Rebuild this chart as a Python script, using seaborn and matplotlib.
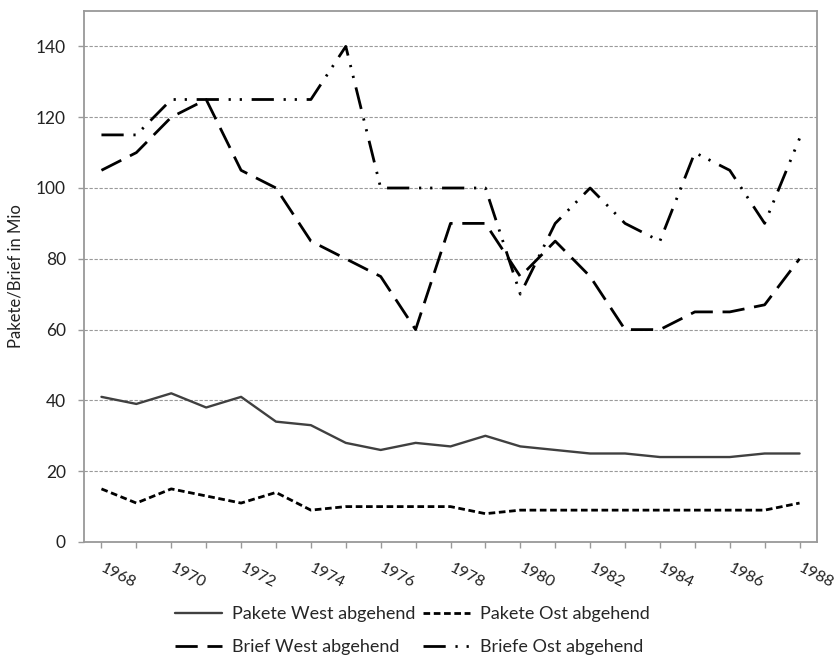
import matplotlib
matplotlib.use("Agg")
import matplotlib.pyplot as plt
import seaborn as sns
import pandas as pd

years = list(range(1968, 1989))
pakete_west = [41, 39, 42, 38, 41, 34, 33, 28, 26, 28, 27, 30, 27, 26, 25, 25, 24, 24, 24, 25, 25]
pakete_ost = [15, 11, 15, 13, 11, 14, 9, 10, 10, 10, 10, 8, 9, 9, 9, 9, 9, 9, 9, 9, 11]
brief_west = [105, 110, 120, 125, 105, 100, 85, 80, 75, 60, 90, 90, 75, 85, 75, 60, 60, 65, 65, 67, 80]
briefe_ost = [115, 115, 125, 125, 125, 125, 125, 140, 100, 100, 100, 100, 70, 90, 100, 90, 85, 110, 105, 90, 114]

series_names = ["Pakete West abgehend", "Pakete Ost abgehend",
                "Brief West abgehend", "Briefe Ost abgehend"]
series_values = [pakete_west, pakete_ost, brief_west, briefe_ost]

df = pd.concat(
    [pd.DataFrame({"Jahr": years, "Wert": vals, "Reihe": name})
     for name, vals in zip(series_names, series_values)],
    ignore_index=True,
)

sns.set_theme(style="white")
plt.rcParams["font.family"] = ["Lato", "DejaVu Sans"]

colors = {
    "Pakete West abgehend": "#404040",
    "Pakete Ost abgehend": "#000000",
    "Brief West abgehend": "#000000",
    "Briefe Ost abgehend": "#000000",
}
dashes = {
    "Pakete West abgehend": "",
    "Pakete Ost abgehend": (2.4, 1.3),
    "Brief West abgehend": (8, 3.5),
    "Briefe Ost abgehend": (8, 3.5, 0.8, 3.2, 0.8, 3.5),
}
widths = {
    "Pakete West abgehend": 1.7,
    "Pakete Ost abgehend": 2.0,
    "Brief West abgehend": 2.0,
    "Briefe Ost abgehend": 2.0,
}

fig = plt.figure(figsize=(8.37, 6.58), dpi=100)
ax = fig.add_axes([84 / 837, 1 - 542 / 658, (817 - 84) / 837, (542 - 11) / 658])

for name in series_names:
    sub = df[df["Reihe"] == name]
    sns.lineplot(data=sub, x="Jahr", y="Wert", ax=ax, color=colors[name],
                 linewidth=widths[name], label=name, legend=False,
                 dash_capstyle="butt")
    line = ax.lines[-1]
    if dashes[name]:
        line.set_dashes(dashes[name])

ax.set_xlim(1967.5, 1988.5)
ax.set_ylim(0, 150)
ax.set_yticks(range(0, 141, 20))
ax.set_xticks(years)
ax.set_xticklabels([str(y) if (y - 1968) % 2 == 0 else "" for y in years],
                   rotation=-27, ha="left", va="center", rotation_mode="anchor")

ax.yaxis.grid(True, color="#9a9a9a", linestyle=(0, (3, 1.5)), linewidth=0.8)
ax.xaxis.grid(False)
ax.set_axisbelow(True)

for side in ["left", "bottom", "top", "right"]:
    ax.spines[side].set_visible(True)
    ax.spines[side].set_color("#999999")
    ax.spines[side].set_linewidth(1.3)

ax.tick_params(axis="both", which="both", direction="out", length=4,
               width=1, color="#999999", labelcolor="#222222", labelsize=12.5)
ax.tick_params(axis="y", pad=9, left=True)
ax.tick_params(axis="x", pad=14, bottom=True, labelsize=11.5)

ax.set_xlabel("")
ax.set_ylabel("Pakete/Brief in Mio", fontsize=12, color="#222222", labelpad=9)

handles = {l.get_label(): l for l in ax.lines}
order = ["Pakete West abgehend", "Brief West abgehend",
         "Pakete Ost abgehend", "Briefe Ost abgehend"]
fig.legend([handles[n] for n in order], order, loc="upper left",
           bbox_to_anchor=(175 / 837, 1 - 606 / 658), ncol=2, frameon=False,
           fontsize=13, handlelength=2.6, handletextpad=0.55,
           columnspacing=0.45, labelspacing=0.95, borderaxespad=0, borderpad=0)

fig.savefig("out.png", dpi=100)
